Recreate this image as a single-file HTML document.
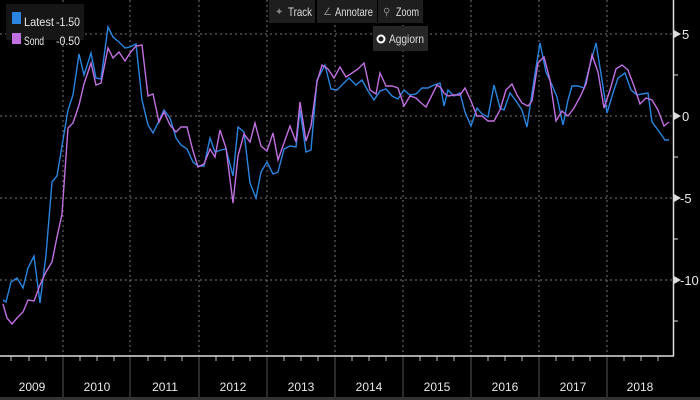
<!DOCTYPE html>
<html><head><meta charset="utf-8"><style>
body{margin:0;background:#000;width:700px;height:400px;overflow:hidden;font-family:"Liberation Sans",sans-serif}
</style></head><body>
<svg width="700" height="400" xmlns="http://www.w3.org/2000/svg" style="position:absolute;left:0;top:0">
<rect width="700" height="400" fill="#000"/>
<g stroke="#777" stroke-width="1" stroke-dasharray="2,3">
<line x1="0" y1="34" x2="673" y2="34"/><line x1="0" y1="116" x2="673" y2="116"/>
<line x1="0" y1="198" x2="673" y2="198"/><line x1="0" y1="280" x2="673" y2="280"/>
<line x1="63" y1="0" x2="63" y2="356"/><line x1="130" y1="0" x2="130" y2="356"/><line x1="199" y1="0" x2="199" y2="356"/><line x1="267" y1="0" x2="267" y2="356"/><line x1="335" y1="0" x2="335" y2="356"/><line x1="403" y1="0" x2="403" y2="356"/><line x1="471" y1="0" x2="471" y2="356"/><line x1="539" y1="0" x2="539" y2="356"/><line x1="607" y1="0" x2="607" y2="356"/>
</g>
<g stroke="#555"><line x1="63" y1="357" x2="63" y2="400"/><line x1="130" y1="357" x2="130" y2="400"/><line x1="199" y1="357" x2="199" y2="400"/><line x1="267" y1="357" x2="267" y2="400"/><line x1="335" y1="357" x2="335" y2="400"/><line x1="403" y1="357" x2="403" y2="400"/><line x1="471" y1="357" x2="471" y2="400"/><line x1="539" y1="357" x2="539" y2="400"/><line x1="607" y1="357" x2="607" y2="400"/></g>
<g stroke="#bbb"><line x1="11" y1="356" x2="11" y2="361"/><line x1="29" y1="356" x2="29" y2="361"/><line x1="46" y1="356" x2="46" y2="361"/><line x1="80" y1="356" x2="80" y2="361"/><line x1="97" y1="356" x2="97" y2="361"/><line x1="114" y1="356" x2="114" y2="361"/><line x1="148" y1="356" x2="148" y2="361"/><line x1="165" y1="356" x2="165" y2="361"/><line x1="182" y1="356" x2="182" y2="361"/><line x1="216" y1="356" x2="216" y2="361"/><line x1="233" y1="356" x2="233" y2="361"/><line x1="250" y1="356" x2="250" y2="361"/><line x1="284" y1="356" x2="284" y2="361"/><line x1="301" y1="356" x2="301" y2="361"/><line x1="318" y1="356" x2="318" y2="361"/><line x1="352" y1="356" x2="352" y2="361"/><line x1="369" y1="356" x2="369" y2="361"/><line x1="386" y1="356" x2="386" y2="361"/><line x1="420" y1="356" x2="420" y2="361"/><line x1="437" y1="356" x2="437" y2="361"/><line x1="454" y1="356" x2="454" y2="361"/><line x1="488" y1="356" x2="488" y2="361"/><line x1="505" y1="356" x2="505" y2="361"/><line x1="522" y1="356" x2="522" y2="361"/><line x1="556" y1="356" x2="556" y2="361"/><line x1="573" y1="356" x2="573" y2="361"/><line x1="590" y1="356" x2="590" y2="361"/><line x1="624" y1="356" x2="624" y2="361"/><line x1="641" y1="356" x2="641" y2="361"/><line x1="658" y1="356" x2="658" y2="361"/></g>
<rect x="0" y="397" width="700" height="3" fill="#333"/>
<polyline fill="none" stroke="#2a85e0" stroke-width="1.4" points="3,300 6,302 11,282 17,278 23,288 28,268 34,256 40,303 46,255 52,182 57,176 62,146 68,110 73,95 79,54 84,75 91,53 96,78 101,79 108,27 113,37 119,42 125,48 130,47 136,44 142,100 148,125 153,133 159,121 164,110 170,118 176,138 181,145 187,149 193,162 198,166 204,166 210,138 215,152 221,150 226,149 233,176 238,127 244,132 250,183 256,198 261,172 267,162 273,174 278,172 284,149 290,146 296,147 300,110 306,152 311,150 317,80 325,65 331,89 337,90 343,84 349,78 356,85 362,80 368,91 374,100 380,91 386,89 392,96 398,99 404,90 410,95 416,94 422,88 428,88 434,85 440,83 444,106 448,90 454,96 460,93 465,112 471,126 477,108 482,114 488,117 494,85 500,108 504,110 510,93 516,101 522,110 527,127 534,80 540,43 546,72 552,85 557,97 563,125 568,100 572,86 578,86 584,88 590,65 596,43 602,80 607,113 613,93 618,78 625,73 631,90 637,95 642,94 648,93 652,122 658,130 665,140 669,140"/>
<polyline fill="none" stroke="#c070e0" stroke-width="1.4" points="3,304 7,318 12,324 17,318 23,312 28,300 34,301 40,285 46,272 52,262 57,237 62,214 68,128 73,123 79,105 84,84 91,63 96,85 101,83 108,48 113,58 119,52 125,61 130,53 136,46 142,45 148,96 153,94 159,122 164,112 170,125 176,132 181,127 187,127 193,151 198,167 204,164 210,149 215,157 220,130 226,148 233,203 238,156 244,134 250,142 255,123 261,146 267,151 273,133 278,160 284,143 290,126 296,142 300,102 306,141 311,126 317,82 322,65 328,69 334,78 340,67 346,77 352,73 358,69 364,63 370,90 376,94 380,73 386,86 392,86 398,88 404,106 410,96 416,98 420,102 426,107 432,95 437,85 441,88 444,93 448,96 454,95 460,95 465,88 471,101 477,116 482,116 488,121 494,121 500,110 506,90 512,84 517,95 522,103 528,106 532,101 538,63 544,57 550,80 556,121 562,111 568,116 574,108 580,97 586,84 592,55 598,72 604,108 610,90 616,69 622,65 628,70 634,86 640,104 646,98 652,100 658,110 664,126 669,122"/>
<g stroke="#ddd" stroke-width="1.5"><line x1="0" y1="356" x2="674" y2="356"/><line x1="673.5" y1="0" x2="673.5" y2="356"/></g>
<g fill="#ddd"><path d="M674,30 l7,4 l-7,4z"/><path d="M674,112 l7,4 l-7,4z"/><path d="M674,194 l7,4 l-7,4z"/><path d="M674,276 l7,4 l-7,4z"/></g>
<g stroke="#ddd"><line x1="673" y1="75" x2="678" y2="75"/><line x1="673" y1="157" x2="678" y2="157"/><line x1="673" y1="239" x2="678" y2="239"/><line x1="673" y1="321" x2="678" y2="321"/></g>
<g fill="#e8e8e8" font-size="13"><text x="682" y="39">5</text><text x="682" y="121">0</text><text x="680" y="203">-5</text><text x="680" y="285">-10</text></g>
<g fill="#e8e8e8" font-size="12" text-anchor="middle"><text x="32" y="391">2009</text><text x="97" y="391">2010</text><text x="165" y="391">2011</text><text x="233" y="391">2012</text><text x="301" y="391">2013</text><text x="369" y="391">2014</text><text x="437" y="391">2015</text><text x="505" y="391">2016</text><text x="573" y="391">2017</text><text x="640" y="391">2018</text></g>
<rect x="6" y="4" width="78" height="36" fill="#161616"/>
<rect x="12" y="15" width="9" height="12" fill="#2a85e0" transform="translate(0,-3)"/>
<rect x="12" y="34" width="9" height="11" fill="#c070e0" transform="translate(0,-1)"/>
<g fill="#e8e8e8" font-size="12"><text x="24" y="26" textLength="30" lengthAdjust="spacingAndGlyphs">Latest</text><text x="56" y="26" textLength="24" lengthAdjust="spacingAndGlyphs">-1.50</text><text x="24" y="45" textLength="20" lengthAdjust="spacingAndGlyphs">Sond</text><text x="56" y="45" textLength="24" lengthAdjust="spacingAndGlyphs">-0.50</text></g>
<rect x="269" y="0" width="46" height="23" fill="#1e1e1e"/><rect x="317" y="0" width="60" height="23" fill="#1e1e1e"/><rect x="378" y="0" width="45" height="23" fill="#1e1e1e"/>
<rect x="373" y="26" width="55" height="25" fill="#262626"/>
<g fill="#ddd" font-size="12"><text x="288" y="16" textLength="24" lengthAdjust="spacingAndGlyphs">Track</text><text x="335" y="16" textLength="38" lengthAdjust="spacingAndGlyphs">Annotare</text><text x="396" y="16" textLength="23" lengthAdjust="spacingAndGlyphs">Zoom</text><text x="389" y="43" textLength="35" lengthAdjust="spacingAndGlyphs">Aggiorn</text></g>
<g fill="#888" font-size="10"><text x="275" y="15">✦</text><text x="323" y="15">∠</text><text x="383" y="15">⚲</text></g>
<circle cx="381" cy="39" r="3.5" fill="none" stroke="#fff" stroke-width="2"/>
</svg>
</body></html>
